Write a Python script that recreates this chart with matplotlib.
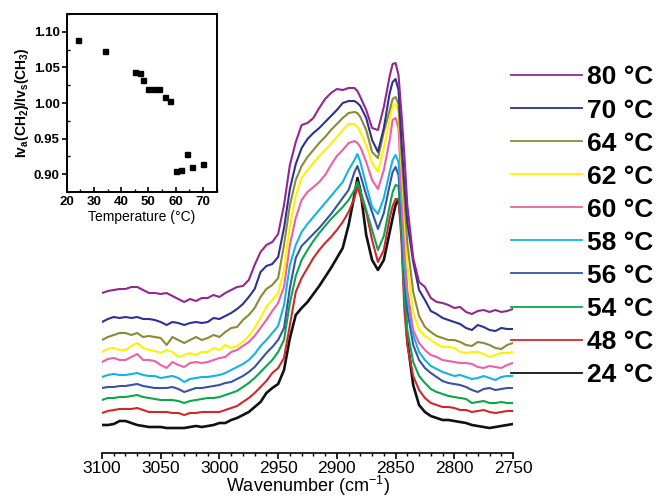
import matplotlib
matplotlib.use("Agg")
import matplotlib.pyplot as plt
from matplotlib.lines import Line2D
from matplotlib.ticker import MultipleLocator, FormatStrFormatter

plt.rcParams['font.family'] = ['Liberation Sans', 'DejaVu Sans']
plt.rcParams['mathtext.fontset'] = 'custom'
plt.rcParams['mathtext.rm'] = 'Liberation Sans'
plt.rcParams['mathtext.it'] = 'Liberation Sans:italic'
plt.rcParams['mathtext.bf'] = 'Liberation Sans:bold'

# ---------------- spectra (stacked, arbitrary absorbance units) ----------------
wavenumber = [3100, 3095, 3090, 3085, 3080, 3075, 3070, 3065, 3060, 3055,
              3050, 3045, 3040, 3035, 3030, 3025, 3020, 3015, 3010, 3005,
              3000, 2995, 2990, 2985, 2980, 2975, 2970, 2965, 2960, 2955,
              2950, 2945, 2940, 2935, 2930, 2925, 2920, 2915, 2910, 2905,
              2900, 2895, 2890, 2885, 2882.5, 2880, 2875, 2870, 2865, 2860,
              2855, 2852.5, 2850, 2847.5, 2845, 2842.5, 2840, 2835, 2830, 2825,
              2820, 2815, 2810, 2805, 2800, 2795, 2790, 2785, 2780, 2775,
              2770, 2765, 2760, 2755, 2750]

abs_80C = [0.160, 0.162, 0.163, 0.164, 0.164, 0.166, 0.166, 0.163, 0.160, 0.160,
           0.159, 0.160, 0.157, 0.154, 0.151, 0.154, 0.152, 0.155, 0.155, 0.158,
           0.156, 0.160, 0.163, 0.166, 0.167, 0.173, 0.188, 0.201, 0.208, 0.211,
           0.219, 0.248, 0.288, 0.311, 0.328, 0.330, 0.335, 0.345, 0.354, 0.360,
           0.364, 0.363, 0.365, 0.365, 0.362, 0.356, 0.343, 0.325, 0.323, 0.346,
           0.377, 0.389, 0.390, 0.378, 0.340, 0.298, 0.248, 0.195, 0.171, 0.166,
           0.155, 0.151, 0.150, 0.148, 0.145, 0.146, 0.141, 0.139, 0.142, 0.143,
           0.141, 0.143, 0.141, 0.142, 0.144]

abs_70C = [0.131, 0.134, 0.136, 0.135, 0.136, 0.135, 0.136, 0.134, 0.134, 0.133,
           0.131, 0.128, 0.131, 0.130, 0.128, 0.130, 0.131, 0.130, 0.131, 0.135,
           0.134, 0.137, 0.140, 0.144, 0.149, 0.156, 0.164, 0.181, 0.187, 0.189,
           0.196, 0.225, 0.264, 0.289, 0.305, 0.314, 0.320, 0.325, 0.331, 0.337,
           0.343, 0.350, 0.352, 0.352, 0.350, 0.347, 0.335, 0.313, 0.301, 0.325,
           0.360, 0.371, 0.374, 0.363, 0.313, 0.268, 0.231, 0.191, 0.163, 0.153,
           0.142, 0.139, 0.135, 0.133, 0.131, 0.129, 0.125, 0.123, 0.128, 0.126,
           0.123, 0.122, 0.125, 0.124, 0.124]

abs_64C = [0.113, 0.116, 0.118, 0.120, 0.120, 0.118, 0.120, 0.116, 0.117, 0.116,
           0.115, 0.108, 0.116, 0.113, 0.110, 0.113, 0.116, 0.113, 0.115, 0.118,
           0.116, 0.121, 0.125, 0.126, 0.133, 0.138, 0.145, 0.156, 0.164, 0.168,
           0.175, 0.208, 0.248, 0.273, 0.287, 0.296, 0.303, 0.310, 0.316, 0.323,
           0.329, 0.335, 0.340, 0.341, 0.340, 0.336, 0.323, 0.301, 0.295, 0.321,
           0.343, 0.354, 0.356, 0.349, 0.299, 0.254, 0.210, 0.161, 0.137, 0.126,
           0.121, 0.117, 0.115, 0.113, 0.113, 0.111, 0.108, 0.107, 0.111, 0.110,
           0.108, 0.105, 0.104, 0.108, 0.110]

abs_62C = [0.101, 0.104, 0.105, 0.103, 0.103, 0.107, 0.110, 0.105, 0.103, 0.102,
           0.100, 0.103, 0.101, 0.096, 0.098, 0.100, 0.098, 0.101, 0.101, 0.105,
           0.103, 0.108, 0.105, 0.107, 0.111, 0.117, 0.125, 0.135, 0.146, 0.153,
           0.160, 0.183, 0.227, 0.257, 0.275, 0.283, 0.290, 0.297, 0.303, 0.309,
           0.316, 0.323, 0.329, 0.329, 0.326, 0.321, 0.308, 0.290, 0.281, 0.305,
           0.333, 0.347, 0.349, 0.341, 0.288, 0.238, 0.188, 0.141, 0.123, 0.117,
           0.113, 0.109, 0.106, 0.106, 0.105, 0.101, 0.100, 0.101, 0.101, 0.099,
           0.096, 0.098, 0.100, 0.100, 0.101]

abs_60C = [0.091, 0.094, 0.095, 0.093, 0.093, 0.096, 0.099, 0.093, 0.093, 0.092,
           0.088, 0.085, 0.091, 0.088, 0.086, 0.090, 0.091, 0.090, 0.091, 0.093,
           0.095, 0.096, 0.101, 0.103, 0.107, 0.111, 0.117, 0.125, 0.133, 0.142,
           0.150, 0.166, 0.208, 0.235, 0.253, 0.261, 0.266, 0.271, 0.278, 0.288,
           0.297, 0.303, 0.310, 0.312, 0.310, 0.306, 0.291, 0.273, 0.264, 0.283,
           0.313, 0.333, 0.335, 0.325, 0.263, 0.208, 0.163, 0.123, 0.110, 0.103,
           0.098, 0.096, 0.093, 0.092, 0.091, 0.090, 0.090, 0.089, 0.086, 0.085,
           0.087, 0.086, 0.085, 0.088, 0.090]

abs_58C = [0.076, 0.078, 0.079, 0.078, 0.078, 0.079, 0.080, 0.078, 0.077, 0.077,
           0.075, 0.076, 0.077, 0.075, 0.071, 0.074, 0.075, 0.076, 0.076, 0.077,
           0.078, 0.080, 0.083, 0.086, 0.089, 0.093, 0.099, 0.107, 0.113, 0.120,
           0.127, 0.148, 0.188, 0.208, 0.221, 0.229, 0.236, 0.243, 0.250, 0.257,
           0.264, 0.271, 0.283, 0.293, 0.299, 0.291, 0.268, 0.246, 0.239, 0.255,
           0.281, 0.293, 0.298, 0.291, 0.248, 0.188, 0.155, 0.118, 0.101, 0.093,
           0.087, 0.084, 0.081, 0.079, 0.077, 0.078, 0.076, 0.074, 0.075, 0.077,
           0.075, 0.073, 0.076, 0.077, 0.077]

abs_56C = [0.065, 0.066, 0.066, 0.067, 0.067, 0.068, 0.069, 0.067, 0.066, 0.065,
           0.065, 0.065, 0.066, 0.064, 0.061, 0.063, 0.065, 0.065, 0.066, 0.067,
           0.068, 0.070, 0.071, 0.074, 0.077, 0.081, 0.086, 0.093, 0.100, 0.106,
           0.113, 0.125, 0.165, 0.195, 0.207, 0.213, 0.219, 0.225, 0.232, 0.239,
           0.247, 0.255, 0.263, 0.281, 0.287, 0.278, 0.258, 0.241, 0.224, 0.240,
           0.268, 0.281, 0.286, 0.278, 0.238, 0.178, 0.143, 0.108, 0.093, 0.085,
           0.080, 0.076, 0.072, 0.070, 0.069, 0.068, 0.066, 0.063, 0.061, 0.064,
           0.065, 0.063, 0.064, 0.065, 0.065]

abs_54C = [0.053, 0.055, 0.055, 0.056, 0.056, 0.057, 0.058, 0.056, 0.055, 0.054,
           0.053, 0.053, 0.053, 0.052, 0.050, 0.052, 0.053, 0.054, 0.055, 0.055,
           0.056, 0.058, 0.060, 0.062, 0.066, 0.070, 0.075, 0.081, 0.087, 0.093,
           0.101, 0.113, 0.150, 0.177, 0.193, 0.203, 0.212, 0.220, 0.227, 0.234,
           0.240, 0.246, 0.253, 0.263, 0.271, 0.263, 0.243, 0.223, 0.203, 0.217,
           0.247, 0.261, 0.268, 0.267, 0.223, 0.158, 0.123, 0.091, 0.077, 0.070,
           0.064, 0.061, 0.059, 0.057, 0.056, 0.055, 0.054, 0.050, 0.051, 0.052,
           0.050, 0.050, 0.051, 0.050, 0.050]

abs_48C = [0.040, 0.042, 0.043, 0.044, 0.044, 0.044, 0.045, 0.043, 0.041, 0.041,
           0.041, 0.041, 0.040, 0.040, 0.038, 0.040, 0.040, 0.041, 0.041, 0.041,
           0.041, 0.043, 0.045, 0.047, 0.051, 0.055, 0.060, 0.066, 0.072, 0.080,
           0.085, 0.095, 0.128, 0.161, 0.175, 0.185, 0.195, 0.203, 0.210, 0.216,
           0.223, 0.231, 0.241, 0.255, 0.266, 0.257, 0.241, 0.213, 0.191, 0.203,
           0.235, 0.247, 0.254, 0.254, 0.213, 0.143, 0.108, 0.077, 0.063, 0.055,
           0.050, 0.048, 0.046, 0.046, 0.045, 0.043, 0.043, 0.041, 0.042, 0.043,
           0.041, 0.040, 0.041, 0.042, 0.042]

abs_24C = [0.028, 0.028, 0.029, 0.032, 0.032, 0.030, 0.028, 0.027, 0.026, 0.026,
           0.026, 0.025, 0.025, 0.025, 0.025, 0.026, 0.027, 0.026, 0.027, 0.028,
           0.030, 0.030, 0.033, 0.035, 0.038, 0.041, 0.046, 0.051, 0.060, 0.065,
           0.069, 0.083, 0.115, 0.138, 0.145, 0.151, 0.159, 0.167, 0.176, 0.185,
           0.195, 0.205, 0.228, 0.258, 0.275, 0.263, 0.218, 0.193, 0.183, 0.193,
           0.221, 0.235, 0.248, 0.254, 0.228, 0.163, 0.113, 0.068, 0.048, 0.041,
           0.037, 0.035, 0.033, 0.033, 0.032, 0.031, 0.030, 0.028, 0.027, 0.026,
           0.025, 0.026, 0.027, 0.028, 0.029]

series_labels = ['80 °C', '70 °C', '64 °C', '62 °C', '60 °C',
                 '58 °C', '56 °C', '54 °C', '48 °C', '24 °C']
series_values = [abs_80C, abs_70C, abs_64C, abs_62C, abs_60C,
                 abs_58C, abs_56C, abs_54C, abs_48C, abs_24C]
series_colors = ['#93278F', '#2E3192', '#8A8A3A', '#FFF200', '#EE5FA7',
                 '#14B4E2', '#3853A4', '#0DA64E', '#D0272D', '#111111']

# ---------------- inset: band intensity ratio vs temperature ----------------
ratio_temp = [24, 34, 45, 47, 48, 50, 52, 54, 56, 58, 60, 62, 64, 66, 70]
ratio_value = [1.089, 1.073, 1.0435, 1.042, 1.032, 1.0195, 1.019, 1.0195,
               1.008, 1.0035, 0.9046, 0.9065, 0.928, 0.910, 0.915]

W, H = 657, 498
fig = plt.figure(figsize=(W / 100, H / 100), dpi=100)
fig.patch.set_facecolor('white')

# main spectra axes
ax = fig.add_axes([102 / W, 1 - 453 / H, 411 / W, 413 / H])
for vals, col in zip(series_values[::-1], series_colors[::-1]):
    lw = 1.9 if col == '#111111' else 1.5
    ax.plot(wavenumber, vals, color=col, lw=lw, solid_joinstyle='round')
ax.set_xlim(3100, 2750)
ax.set_ylim(0, 0.413)
for side in ('left', 'right', 'top'):
    ax.spines[side].set_visible(False)
ax.spines['bottom'].set_linewidth(1.2)
ax.set_yticks([])
ax.xaxis.set_major_locator(MultipleLocator(50))
ax.xaxis.set_minor_locator(MultipleLocator(10))
ax.tick_params(axis='x', which='major', direction='out', length=4, width=1.2,
               labelsize=12.5, pad=1.5)
ax.tick_params(axis='x', which='minor', direction='out', length=2, width=1.0)
ax.set_xlabel('Wavenumber (cm$^{-1}$)', fontsize=13, labelpad=-1)

# legend drawn as stacked line samples with bold labels
legend_top = 75
legend_step = 33.08
for k, (lab, col) in enumerate(zip(series_labels, series_colors)):
    yf = 1 - (legend_top + k * legend_step) / H
    fig.add_artist(Line2D([510.7 / W, 581.7 / W], [yf, yf], color=col, lw=1.3,
                          transform=fig.transFigure))
    fig.text(587 / W, yf, lab, fontsize=19, fontweight='bold',
             va='center_baseline', ha='left')

# inset axes
axi = fig.add_axes([66.7 / W, 1 - 192 / H, 149.8 / W, 178 / H])
axi.plot(ratio_temp, ratio_value, ls='none', marker='s', ms=3.6,
         color='black', mec='black')
axi.set_xlim(20, 75)
axi.set_ylim(0.875, 1.125)
axi.xaxis.set_major_locator(MultipleLocator(10))
axi.xaxis.set_minor_locator(MultipleLocator(5))
axi.yaxis.set_major_locator(MultipleLocator(0.05))
axi.yaxis.set_minor_locator(MultipleLocator(0.025))
for s in axi.spines.values():
    s.set_linewidth(1.4)
axi.tick_params(axis='x', which='major', direction='in', length=3.5, width=1.2,
                labelsize=9.5, pad=3)
axi.tick_params(axis='x', which='minor', direction='in', length=2, width=1.0)
axi.tick_params(axis='y', which='major', direction='out', length=3.5, width=1.2,
                labelsize=9.5, pad=1.5)
axi.tick_params(axis='y', which='minor', direction='in', length=2, width=1.0)
for t in axi.get_xticklabels() + axi.get_yticklabels():
    t.set_fontweight('bold')
axi.yaxis.set_major_formatter(FormatStrFormatter('%.2f'))
axi.set_xlabel('Temperature (°C)', fontsize=10, labelpad=1)
axi.set_ylabel(r'$\mathbf{Iv_a(CH_2)/Iv_s(CH_3)}$', fontsize=10, labelpad=2)

fig.savefig('out.png', dpi=100, facecolor='white')
